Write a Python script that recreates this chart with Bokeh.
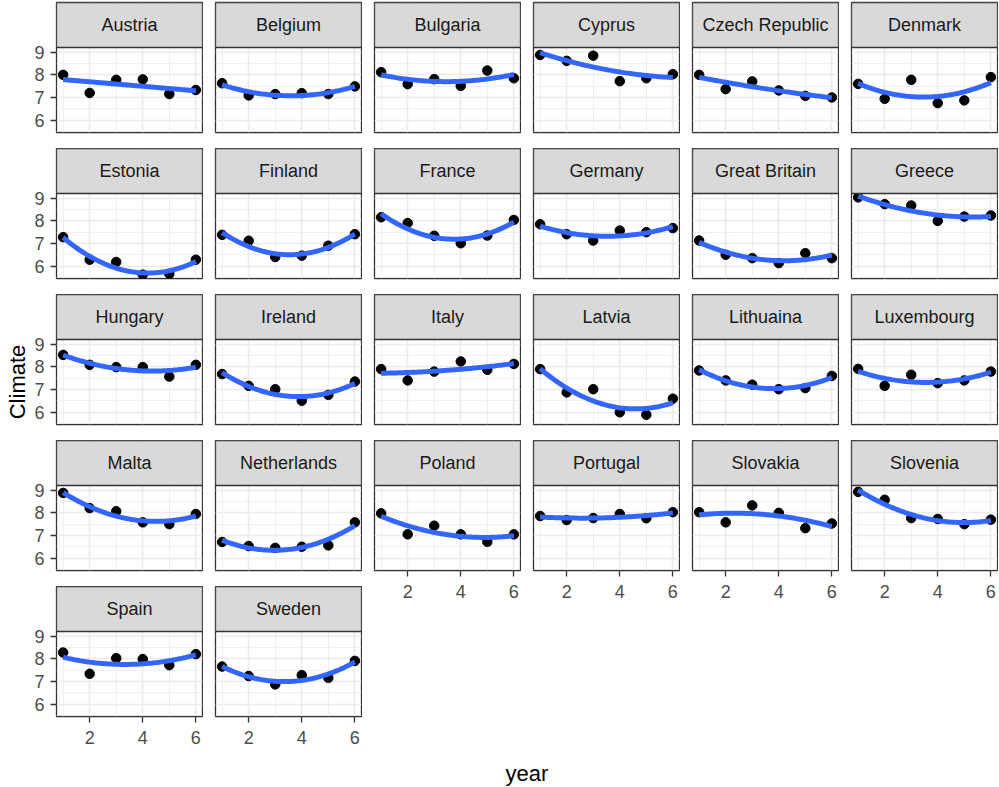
import numpy as np
from bokeh.plotting import figure
from bokeh.layouts import row, column
from bokeh.models import Range1d, FixedTicker, BoxAnnotation
from bokeh.embed import file_html
from bokeh.resources import INLINE
from bokeh.core.properties import value

# ---- data: mean climate score per country over six survey years ----
year = [1, 2, 3, 4, 5, 6]

austria = [8.00, 7.20, 7.78, 7.80, 7.15, 7.33]
belgium = [7.63, 7.09, 7.15, 7.19, 7.15, 7.49]
bulgaria = [8.12, 7.59, 7.81, 7.51, 8.19, 7.85]
cyprus = [8.88, 8.62, 8.85, 7.72, 7.85, 8.03]
czech_republic = [8.00, 7.37, 7.71, 7.31, 7.07, 7.00]
denmark = [7.60, 6.94, 7.78, 6.75, 6.87, 7.90]
estonia = [7.28, 6.28, 6.18, 5.62, 5.65, 6.28]
finland = [7.38, 7.12, 6.40, 6.46, 6.90, 7.41]
france = [8.16, 7.90, 7.34, 7.01, 7.35, 8.04]
germany = [7.85, 7.41, 7.13, 7.57, 7.50, 7.68]
great_britain = [7.13, 6.50, 6.35, 6.13, 6.57, 6.35]
greece = [9.04, 8.74, 8.68, 8.00, 8.19, 8.24]
hungary = [8.53, 8.09, 7.99, 7.99, 7.57, 8.09]
ireland = [7.68, 7.16, 7.01, 6.50, 6.76, 7.35]
italy = [7.90, 7.40, 7.79, 8.24, 7.87, 8.13]
latvia = [7.90, 6.87, 7.01, 5.99, 5.88, 6.59]
lithuaina = [7.84, 7.40, 7.21, 7.01, 7.06, 7.60]
luxembourg = [7.91, 7.16, 7.65, 7.28, 7.40, 7.79]
malta = [8.88, 8.21, 8.07, 7.58, 7.50, 7.95]
netherlands = [6.71, 6.53, 6.45, 6.50, 6.56, 7.58]
poland = [7.98, 7.05, 7.43, 7.05, 6.72, 7.05]
portugal = [7.86, 7.68, 7.77, 7.95, 7.76, 8.03]
slovakia = [8.03, 7.58, 8.33, 8.00, 7.32, 7.53]
slovenia = [8.93, 8.58, 7.77, 7.73, 7.50, 7.70]
spain = [8.28, 7.34, 8.03, 7.99, 7.72, 8.21]
sweden = [7.66, 7.24, 6.87, 7.28, 7.16, 7.91]

countries = ["Austria", "Belgium", "Bulgaria", "Cyprus", "Czech Republic", "Denmark",
             "Estonia", "Finland", "France", "Germany", "Great Britain", "Greece",
             "Hungary", "Ireland", "Italy", "Latvia", "Lithuaina", "Luxembourg",
             "Malta", "Netherlands", "Poland", "Portugal", "Slovakia", "Slovenia",
             "Spain", "Sweden"]
series = [austria, belgium, bulgaria, cyprus, czech_republic, denmark,
          estonia, finland, france, germany, great_britain, greece,
          hungary, ireland, italy, latvia, lithuaina, luxembourg,
          malta, netherlands, poland, portugal, slovakia, slovenia,
          spain, sweden]

x_ticks = [2, 4, 6]
x_minor = [1, 3, 5]
y_ticks = [6, 7, 8, 9]
y_minor = [5.5, 6.5, 7.5, 8.5]

# ---- styling ----
FONT = "Liberation Sans"
GRID = "#EBEBEB"
BORDER = "#333333"
STRIP_FILL = "#D9D9D9"
SMOOTH = "#3366FF"

NCOL = 6
PANEL_W, PANEL_H, STRIP_H = 146, 85, 45
GAP_X, GAP_Y = 12, 16
YLAB_W = 30
LEFT = 26          # room for the y tick labels of the first column
RIGHT = 1
TOP = 2
AXIS_H = 36

# shared scales with 5% padding, as in a faceted plot with fixed scales
all_vals = np.concatenate([np.asarray(s, float) for s in series])
lo, hi = all_vals.min(), all_vals.max()
ypad = 0.05 * (hi - lo)
y_lim = (lo - ypad, hi + ypad)
xpad = 0.05 * (max(year) - min(year))
x_lim = (min(year) - xpad, max(year) + xpad)

# the strip label sits on top of each panel inside the same frame
units_per_px = (y_lim[1] - y_lim[0]) / PANEL_H
y_top = y_lim[1] + STRIP_H * units_per_px


def style_axis(ax, standoff):
    ax.axis_line_color = None
    ax.major_tick_out = 6
    ax.major_tick_in = 0
    ax.major_tick_line_color = BORDER
    ax.major_tick_line_width = 1.3
    ax.minor_tick_line_color = None
    ax.major_label_text_font = FONT
    ax.major_label_text_font_size = "18px"
    ax.major_label_text_color = "#4D4D4D"
    ax.major_label_standoff = standoff


def facet(name, vals, left, top, show_x, show_y):
    bottom = AXIS_H if show_x else GAP_Y
    p = figure(width=left + PANEL_W + RIGHT, height=top + STRIP_H + PANEL_H + bottom,
               x_range=Range1d(*x_lim), y_range=Range1d(y_lim[0], y_top),
               x_axis_location="below" if show_x else None,
               y_axis_location="left" if show_y else None,
               min_border_left=left, min_border_right=RIGHT,
               min_border_top=top, min_border_bottom=bottom,
               toolbar_location=None, output_backend="svg")
    p.background_fill_color = "white"
    p.border_fill_color = "white"
    p.outline_line_color = BORDER
    p.outline_line_width = 1.3

    p.xgrid.ticker = FixedTicker(ticks=x_ticks, minor_ticks=x_minor)
    p.ygrid.ticker = FixedTicker(ticks=y_ticks, minor_ticks=y_minor)
    for g in (p.xgrid, p.ygrid):
        g.grid_line_color = GRID
        g.grid_line_width = 1.6
        g.minor_grid_line_color = GRID
        g.minor_grid_line_width = 0.8

    if show_x:
        p.xaxis.ticker = FixedTicker(ticks=x_ticks)
        style_axis(p.xaxis[0], 8)
    if show_y:
        p.yaxis.ticker = FixedTicker(ticks=y_ticks)
        style_axis(p.yaxis[0], 6)

    # observed values
    p.scatter(year, vals, size=9.5, color="black")
    # quadratic trend fitted to the six yearly values
    coef = np.polyfit(year, vals, 2)
    xs = np.linspace(min(year), max(year), 80)
    p.line(xs, np.polyval(coef, xs), line_color=SMOOTH, line_width=5)

    # facet strip
    p.add_layout(BoxAnnotation(bottom=y_lim[1], fill_color=STRIP_FILL, fill_alpha=1.0,
                               line_color=BORDER, line_width=1.3, line_alpha=1.0))
    p.text(x=[(x_lim[0] + x_lim[1]) / 2], y=[(y_lim[1] + y_top) / 2], text=[name],
           text_align="center", text_baseline="middle", text_font=value(FONT),
           text_font_size="18px", text_color="#1A1A1A", level="overlay")
    return p


n = len(countries)
nrow = (n + NCOL - 1) // NCOL
columns = []
col_height = 0
for c in range(NCOL):
    left = LEFT if c == 0 else GAP_X
    idx = [r * NCOL + c for r in range(nrow) if r * NCOL + c < n]
    kids = []
    h = 0
    for k, i in enumerate(idx):
        r = i // NCOL
        last = (k == len(idx) - 1)
        f = facet(countries[i], series[i], left, TOP if r == 0 else 0, last, c == 0)
        h += f.height
        kids.append(f)
    col_height = max(col_height, h)
    columns.append(column(*kids, spacing=0))

# y-axis title, centred on the panel area
panel_mid = (TOP + STRIP_H + (col_height - AXIS_H)) / 2
ylab = figure(width=YLAB_W, height=col_height, x_range=Range1d(0, YLAB_W),
              y_range=Range1d(col_height, 0),
              x_axis_location=None, y_axis_location=None,
              min_border_left=0, min_border_right=0, min_border_top=0, min_border_bottom=0,
              toolbar_location=None, output_backend="svg")
ylab.grid.visible = False
ylab.outline_line_color = None
ylab.text(x=[17], y=[panel_mid], text=["Climate"], angle=np.pi / 2,
          text_align="center", text_baseline="middle", text_font=value(FONT),
          text_font_size="22px", text_color="black")

grid = row(ylab, *columns, spacing=0)

# shared x-axis title centred under the panel area
total_w = YLAB_W + LEFT + NCOL * (PANEL_W + RIGHT) + (NCOL - 1) * GAP_X
xt = figure(width=999, height=787 - col_height, x_range=Range1d(0, 1), y_range=Range1d(0, 1),
            x_axis_location=None, y_axis_location=None,
            min_border_left=YLAB_W + LEFT, min_border_right=999 - total_w + RIGHT,
            min_border_top=0, min_border_bottom=0,
            toolbar_location=None, output_backend="svg")
xt.grid.visible = False
xt.outline_line_color = None
xt.text(x=[0.5], y=[0.4], text=["year"], text_align="center", text_baseline="middle",
        text_font=value(FONT), text_font_size="22px", text_color="black")

page = column(grid, xt, spacing=0)

with open("out.html", "w") as f:
    f.write(file_html(page, INLINE))
